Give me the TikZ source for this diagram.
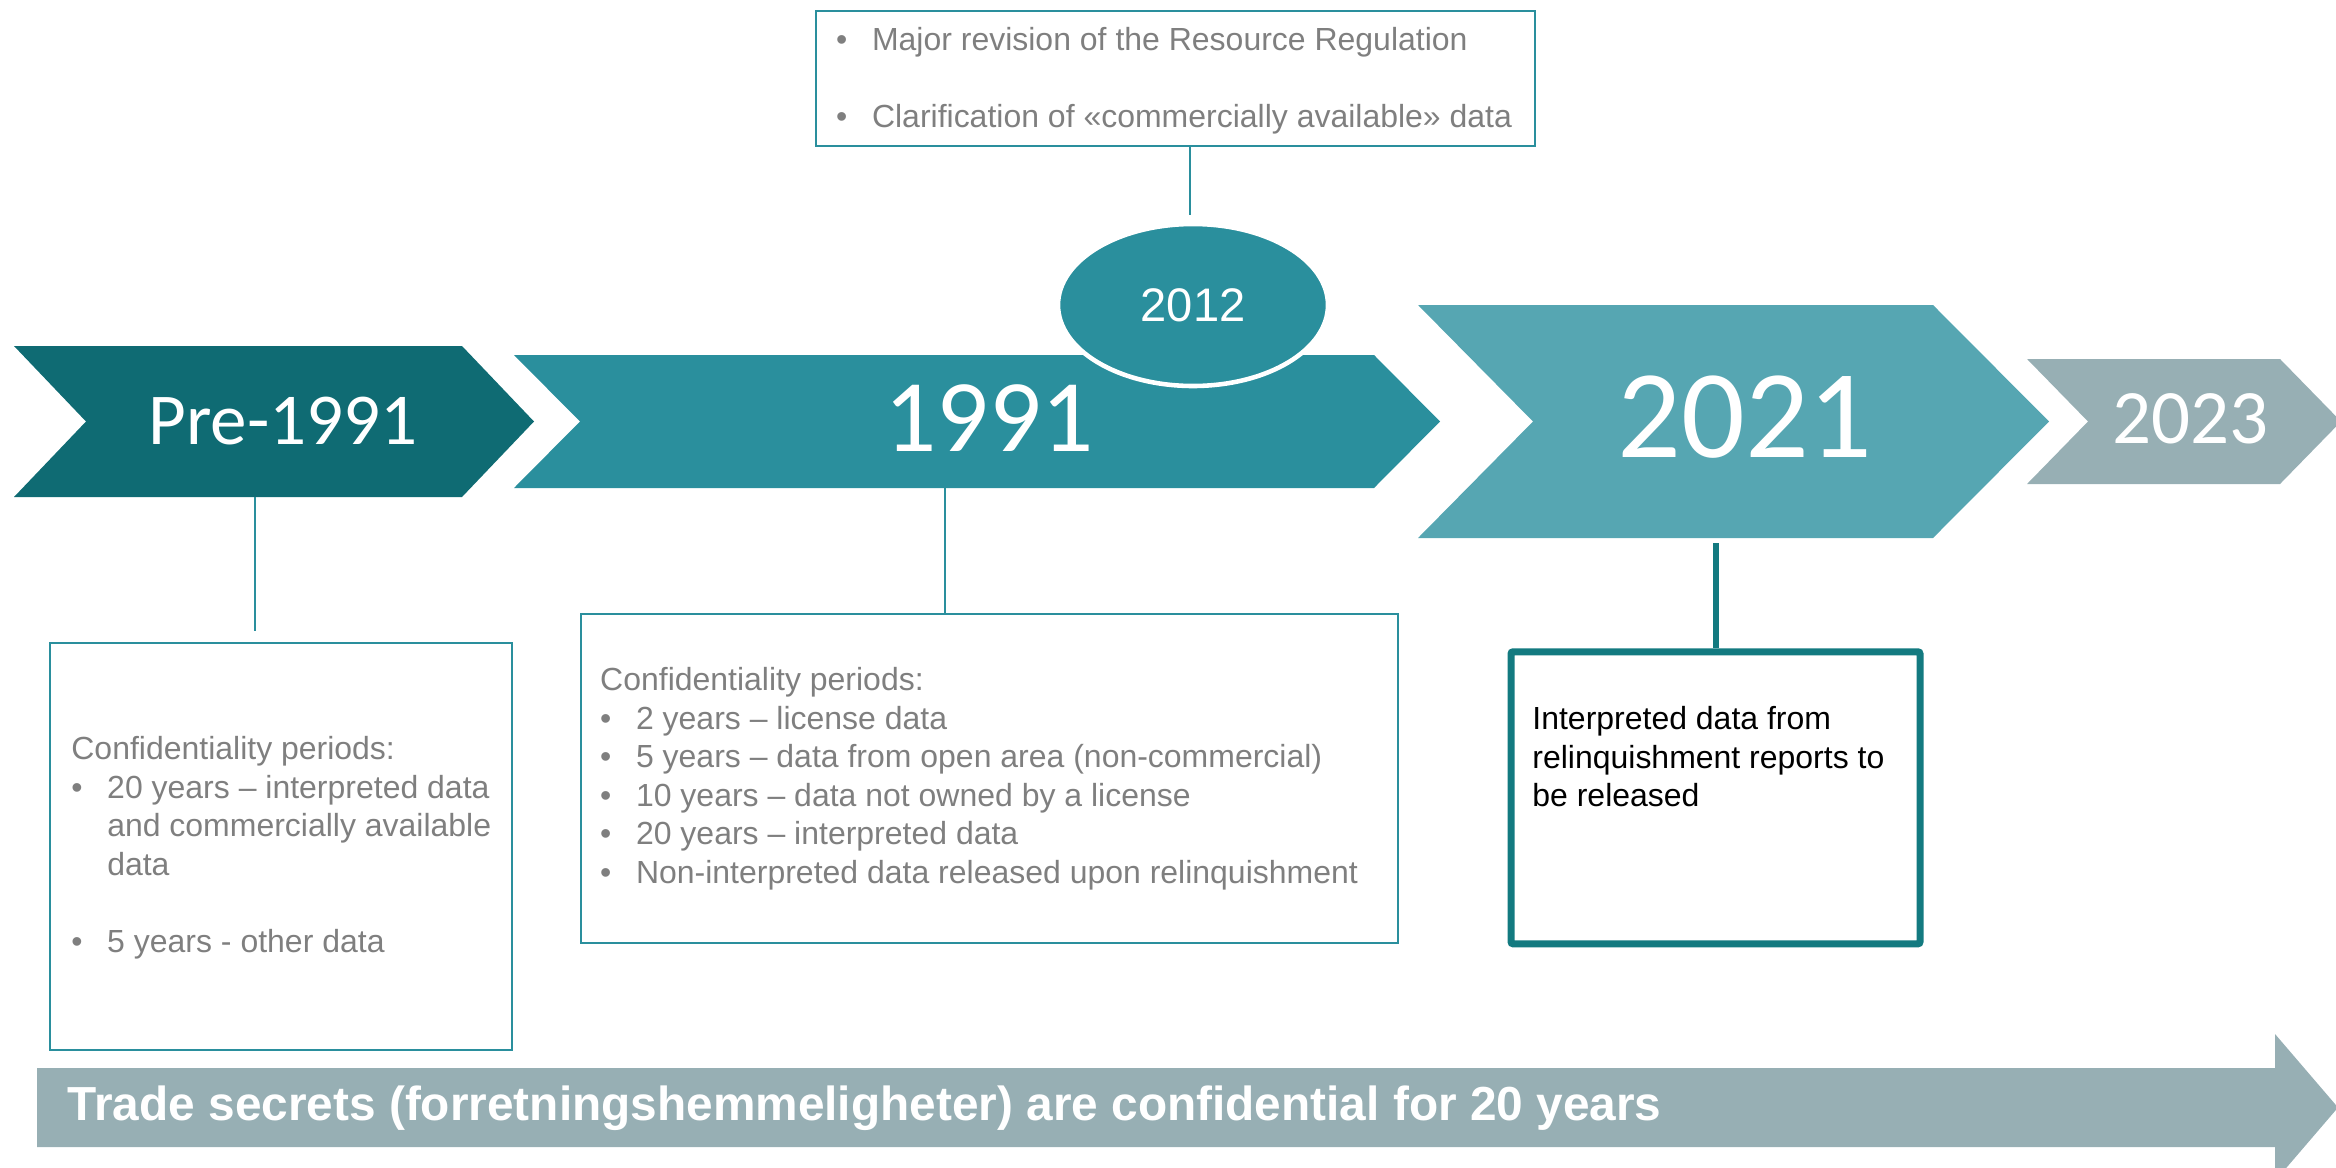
\documentclass[tikz,border=0pt]{standalone}
\usepackage{fontspec}
\setmainfont{Liberation Sans}
\newfontfamily\calibri{Carlito}
\usetikzlibrary{shapes.geometric}
\definecolor{tealdark}{HTML}{0F6B73}
\definecolor{tealmid}{HTML}{2A8F9D}
\definecolor{teallight}{HTML}{56A6B2}
\definecolor{tealgrey}{HTML}{97AFB4}
\definecolor{tealline}{HTML}{137A80}
\definecolor{txtgrey}{HTML}{7F7F7F}
\newcommand{\bul}{\makebox[10.2pt][l]{\textbullet}}
\newcommand{\hang}{\hspace*{10.2pt}}
\begin{document}
\begin{tikzpicture}[x=0.1mm,y=-0.1mm,line join=miter,
  year/.style={text=white,inner sep=0},
  infobox/.style={draw=tealmid,line width=0.45pt,inner sep=0},
  infotext/.style={text=txtgrey,align=left,inner sep=0,anchor=base west,font=\fontsize{9.1}{10.95}\selectfont},
  link/.style={draw=tealmid,line width=0.45pt}]
\clip (0,0) rectangle (2336,1168);
% timeline chevrons
\fill[tealdark] (14,346)--(462,346)--(534,421.5)--(462,497)--(14,497)--(86,421.5)--cycle;
\fill[tealmid] (514,355)--(1374,355)--(1440,421.5)--(1374,488)--(514,488)--(580,421.5)--cycle;
\fill[teallight] (1418,305)--(1933,305)--(2049,421.5)--(1933,538)--(1418,538)--(1533,421.5)--cycle;
\fill[tealgrey] (2027,359)--(2280,359)--(2341,421.5)--(2280,484)--(2027,484)--(2088,421.5)--cycle;
\node[year,font=\calibri\fontsize{20.8}{24}\selectfont] (pre) at (283,421) {Pre-1991};
\node[year,font=\calibri\fontsize{29.3}{34}\selectfont] (y1991) at (989,418) {1991};
\node[year,font=\calibri\fontsize{35.8}{42}\selectfont] (y2021) at (1745,417) {2021};
\node[year,font=\calibri\fontsize{21.9}{26}\selectfont] (y2023) at (2190,419) {2023};
\node[ellipse,fill=tealmid,draw=white,line width=1.3pt,minimum width=27mm,minimum height=16.2mm,
  inner sep=0,text=white,font=\fontsize{13.4}{16}\selectfont] (y2012) at (1193,305) {2012};
% boxes
\node[infobox,minimum width=71.9mm,minimum height=13.5mm] (topbox) at (1175.5,78.4) {};
\node[infobox,minimum width=46.2mm,minimum height=40.7mm] (prebox) at (281.2,846.5) {};
\node[infobox,minimum width=81.7mm,minimum height=32.9mm] (midbox) at (989.2,778.4) {};
\node[draw=tealline,line width=2pt,rounded corners=0.6pt,minimum width=40.9mm,minimum height=29.2mm] (relbox) at (1715.5,797.8) {};
% texts (anchored at the last line)
\node[infotext] (toptext) at (835.5,127.7)
  {\bul Major revision of the Resource Regulation\\[10.95pt]
   \bul Clarification of «commercially available» data};
\node[infotext] (pretext) at (70.7,952)
  {Confidentiality periods:\\
   \bul 20 years – interpreted data\\
   \hang and commercially available\\
   \hang data\\[10.95pt]
   \bul 5 years - other data};
\node[infotext] (midtext) at (599.5,883)
  {Confidentiality periods:\\
   \bul 2 years – license data\\
   \bul 5 years – data from open area (non-commercial)\\
   \bul 10 years – data not owned by a license\\
   \bul 20 years – interpreted data\\
   \bul Non-interpreted data released upon relinquishment};
\node[infotext,text=black] (reltext) at (1531.7,806.7)
  {Interpreted data from\\relinquishment reports to\\be released};
% connectors
\coordinate (prefoot) at (255,497);
\coordinate (foot1991) at (945,488);
\coordinate (foot2021) at (1716,543);
\coordinate (stem2012) at (1190,146);
\draw[link,shorten >=1.1mm] (prefoot) -- (prefoot |- prebox.north);
\draw[link] (foot1991) -- (foot1991 |- midbox.north);
\draw[draw=tealline,line width=1.5pt] (foot2021) -- (foot2021 |- relbox.north);
\draw[link,shorten >=0.7mm] (stem2012) -- (stem2012 |- y2012.north);
% bottom arrow
\fill[tealgrey] (37,1068)--(2275,1068)--(2275,1034)--(2338,1107.5)--(2275,1181)--(2275,1147)--(37,1147)--cycle;
\node[anchor=base west,inner sep=0,text=white,font=\bfseries\fontsize{13.6}{16}\selectfont] (trade) at (67,1120)
  {Trade secrets (forretningshemmeligheter) are confidential for 20 years};
\end{tikzpicture}
\end{document}
